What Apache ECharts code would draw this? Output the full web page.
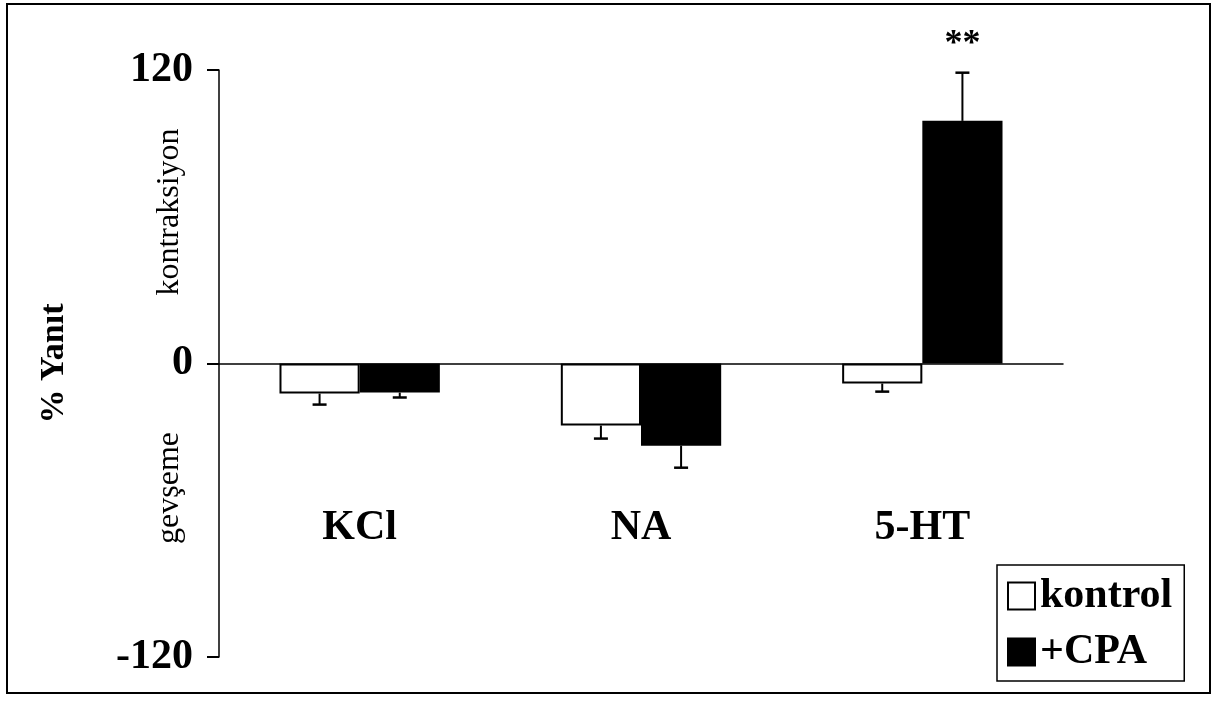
<!DOCTYPE html>
<html>
<head>
<meta charset="utf-8">
<script src="https://cdn.jsdelivr.net/npm/echarts@6/dist/echarts.min.js"></script>
<style>
html, body { margin: 0; padding: 0; background: #fff; }
#main { width: 1216px; height: 704px; }
</style>
</head>
<body>
<div id="main"></div>
<script>
var categories = ['KCl', 'NA', '5-HT'];
var seriesNames = ['kontrol', '+CPA'];
var kontrolValues = [-12.3, -25.4, -8.2];
var kontrolErr = [4.5, 5.3, 3.3];
var cpaValues = [-11.9, -33.6, 99.2];
var cpaErr = [2.0, 9.0, 19.7];
var cpaMarks = ['', '', '**'];
var yTicks = [-120, 0, 120];

var font = 'Liberation Serif';
var gapRatio = 0.43;

function errorItem(offsetSign, marks) {
	return function(params, api) {
		var idx = api.value(0);
		var v = api.value(1);
		var e = api.value(2);
		var band = api.size([1, 0])[0];
		var barW = band * (1 - gapRatio) / 2;
		var base = api.coord([idx, v]);
		var x = base[0] + offsetSign * barW / 2;
		var dir = v >= 0 ? 1 : -1;
		var end = api.coord([idx, v + dir * e]);
		var children = [{
			type: 'line',
			shape: { x1: x, y1: base[1], x2: x, y2: end[1] },
			style: { stroke: '#000', lineWidth: 2 }
		}, {
			type: 'line',
			shape: { x1: x - 7, y1: end[1], x2: x + 7, y2: end[1] },
			style: { stroke: '#000', lineWidth: 2.5 }
		}];
		if (marks && marks[params.dataIndex]) {
			children.push({
				type: 'text',
				style: {
					x: x, y: end[1] - 10,
					text: marks[params.dataIndex],
					font: 'bold 36px "' + font + '"',
					fill: '#000',
					align: 'center',
					verticalAlign: 'bottom'
				}
			});
		}
		return { type: 'group', children: children };
	};
}

function errData(vals, errs) {
	var out = [];
	for (var i = 0; i < vals.length; i++) {
		out.push([i, vals[i], errs[i]]);
	}
	return out;
}

var myChart = echarts.init(document.getElementById('main'));
var option = {
	backgroundColor: '#fff',
	animation: false,
	grid: {
		left: 219,
		right: 153,
		top: 70,
		bottom: 47,
		containLabel: false,
		outerBoundsMode: 'none'
	},
	legend: {
		data: seriesNames,
		orient: 'vertical',
		left: 997,
		top: 565,
		icon: 'rect',
		itemWidth: 27,
		itemHeight: 27,
		itemGap: 14,
		padding: [10, 12, 8, 10],
		borderColor: '#000',
		borderWidth: 1.5,
		textStyle: {
			fontFamily: font,
			fontWeight: 'bold',
			fontSize: 42,
			color: '#000'
		}
	},
	xAxis: {
		type: 'category',
		data: categories,
		axisLine: { onZero: true, lineStyle: { color: '#000', width: 1.5 } },
		axisTick: { show: false },
		axisLabel: {
			margin: -150,
			fontFamily: font,
			fontWeight: 'bold',
			fontSize: 42,
			color: '#000'
		}
	},
	yAxis: {
		type: 'value',
		min: -120,
		max: 120,
		interval: 120,
		name: '% Yanıt',
		nameLocation: 'middle',
		nameGap: 148,
		nameTextStyle: {
			fontFamily: font,
			fontWeight: 'bold',
			fontSize: 34,
			color: '#000'
		},
		axisLine: { show: true, lineStyle: { color: '#000', width: 1.5 } },
		axisTick: { show: true, length: 12, lineStyle: { color: '#000', width: 2 } },
		splitLine: { show: false },
		axisLabel: {
			margin: 26,
			fontFamily: font,
			fontWeight: 'bold',
			fontSize: 42,
			color: '#000',
			formatter: function(v) { return yTicks.indexOf(v) >= 0 ? String(v) : ''; }
		}
	},
	graphic: [{
		type: 'rect',
		shape: { x: 7, y: 4, width: 1203, height: 689 },
		style: { fill: 'none', stroke: '#000', lineWidth: 2 }
	}, {
		type: 'text',
		x: 170, y: 212, rotation: Math.PI / 2,
		style: {
			text: 'kontraksiyon', font: '32px "' + font + '"', fill: '#000',
			align: 'center', verticalAlign: 'middle'
		}
	}, {
		type: 'text',
		x: 170, y: 488, rotation: Math.PI / 2,
		style: {
			text: 'gevşeme', font: '32px "' + font + '"', fill: '#000',
			align: 'center', verticalAlign: 'middle'
		}
	}],
	series: [{
		name: seriesNames[0],
		type: 'bar',
		data: kontrolValues,
		barGap: '0%',
		barCategoryGap: (gapRatio * 100) + '%',
		itemStyle: { color: '#fff', borderColor: '#000', borderWidth: 2 }
	}, {
		name: seriesNames[1],
		type: 'bar',
		data: cpaValues,
		itemStyle: { color: '#000', borderColor: '#000', borderWidth: 2 }
	}, {
		type: 'custom',
		renderItem: errorItem(-1),
		data: errData(kontrolValues, kontrolErr),
		z: 3
	}, {
		type: 'custom',
		renderItem: errorItem(1, cpaMarks),
		data: errData(cpaValues, cpaErr),
		z: 3
	}]
};
myChart.setOption(option);

window.onresize = function() {
	myChart.resize();
};
</script>
</body>
</html>
